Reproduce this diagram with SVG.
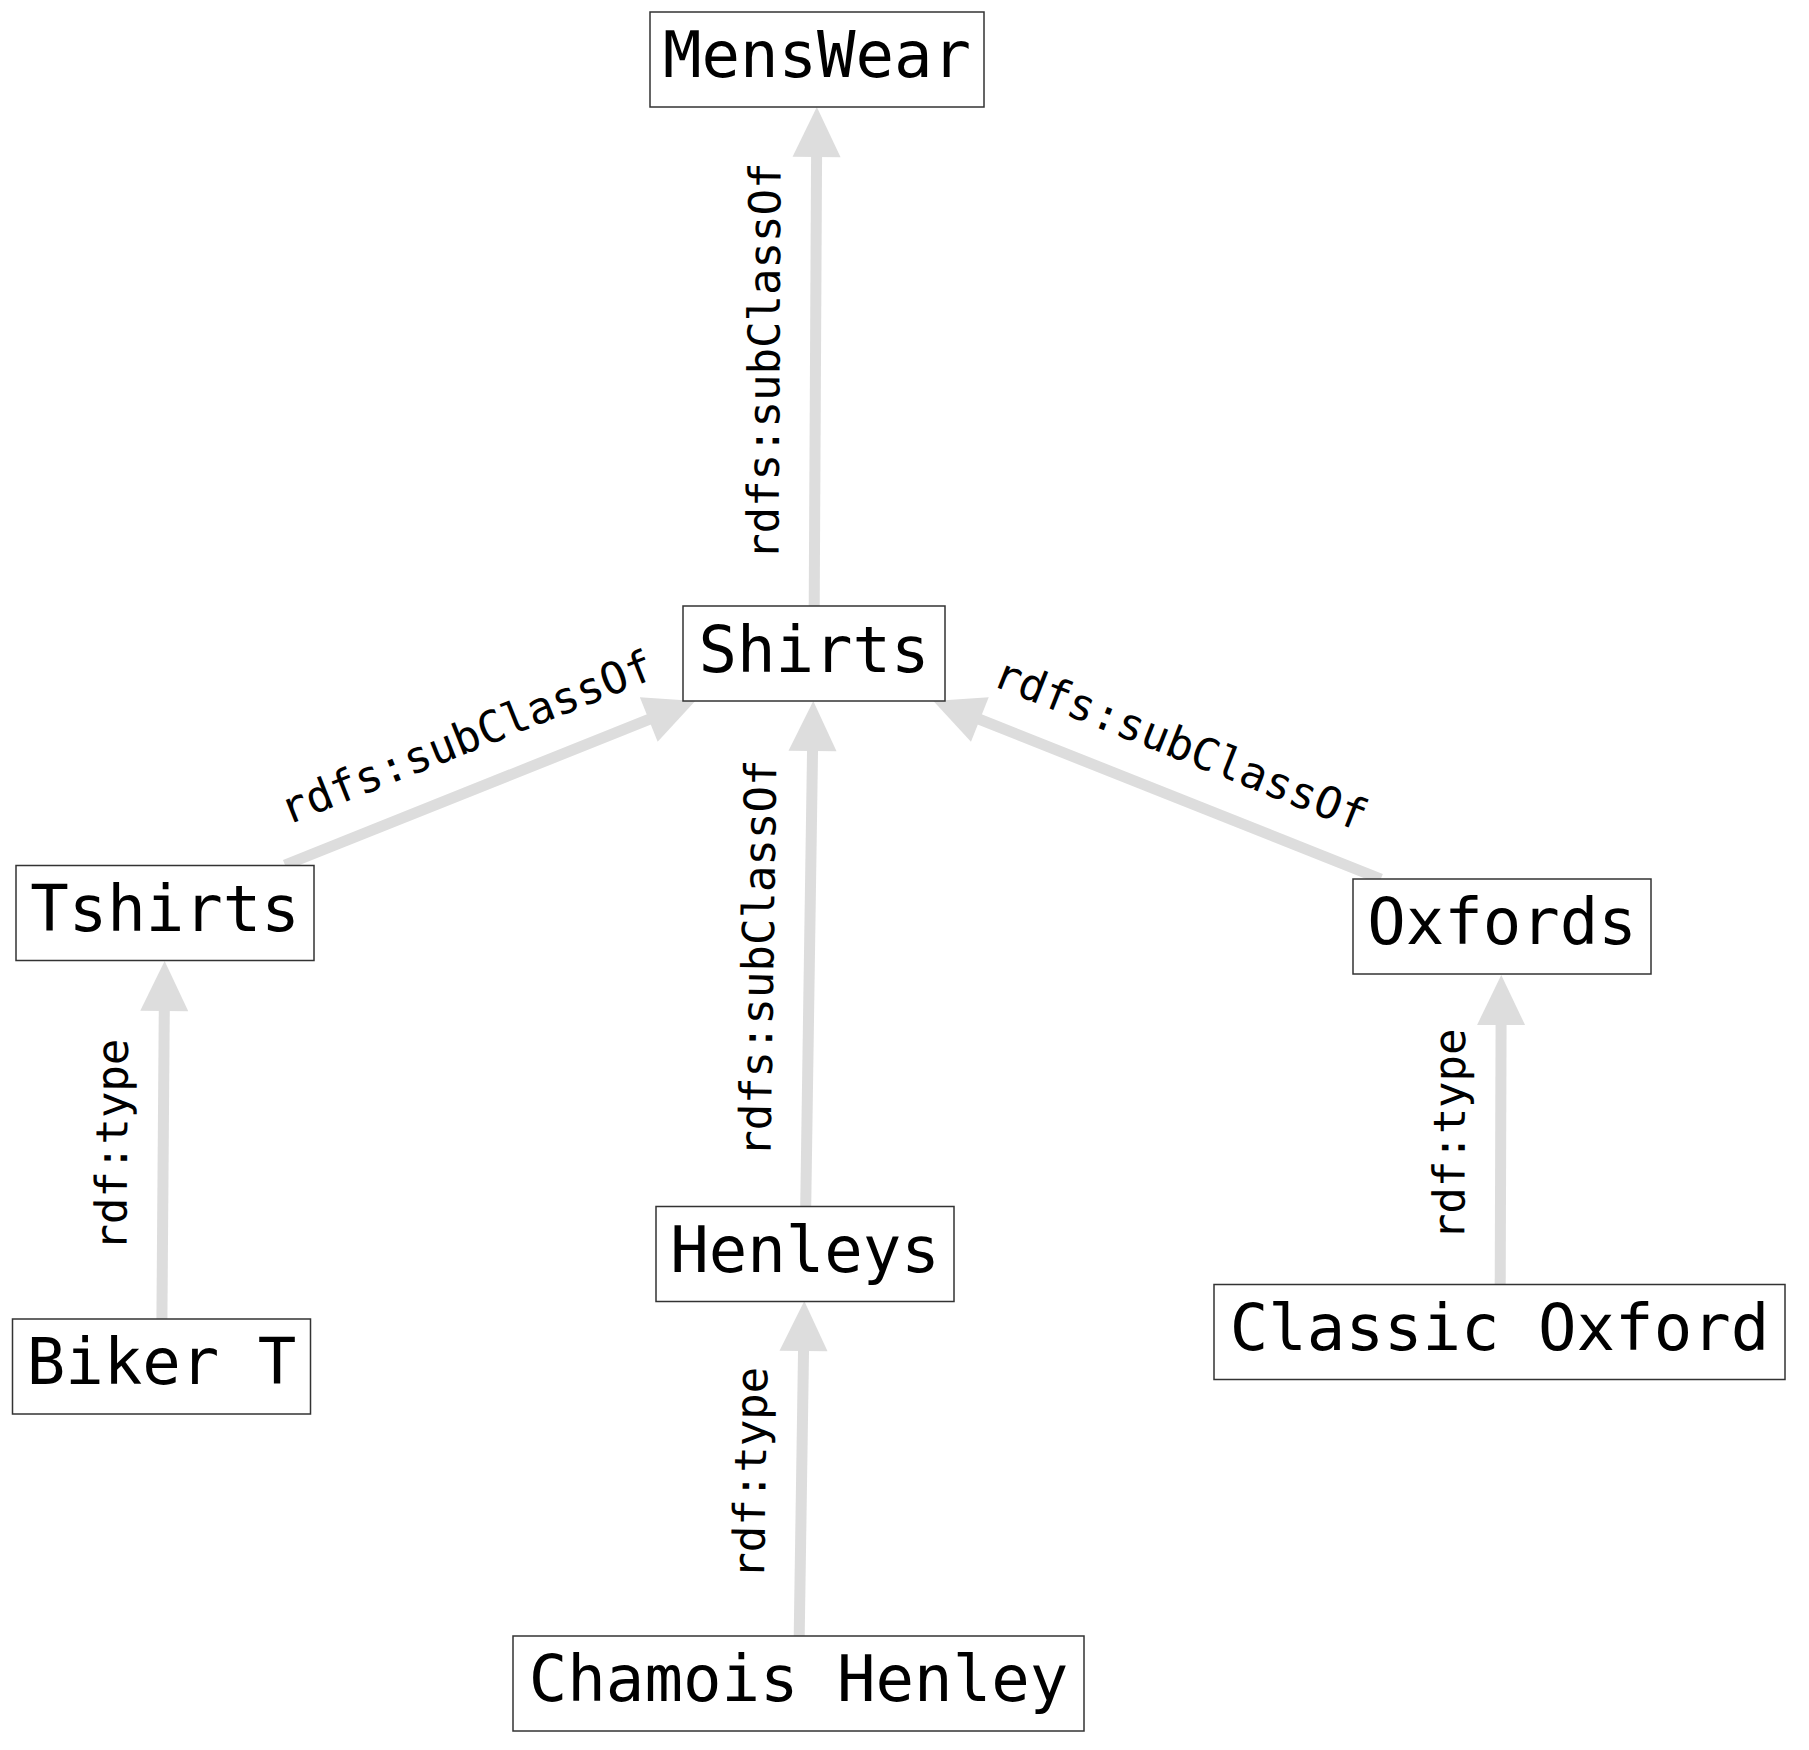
<svg xmlns="http://www.w3.org/2000/svg" width="1809" height="1750" viewBox="0 0 1809 1750">
<style>
.box{fill:#ffffff;stroke:#333333;stroke-width:1.5}
.nt{font-family:"DejaVu Sans Mono","Liberation Mono",monospace;font-size:64px;fill:#000000;text-anchor:middle}
.edge{stroke:#dddddd;stroke-width:11;fill:none;marker-end:url(#ah)}
.lbl{font-family:"DejaVu Sans Mono","Liberation Mono",monospace;font-size:44px;fill:#000000;text-anchor:middle}
</style>
<defs>
<marker id="ah" markerUnits="userSpaceOnUse" markerWidth="50" markerHeight="48" refX="5" refY="24" orient="auto" overflow="visible">
<path d="M0,0 L50,24 L0,48 Z" fill="#dddddd"/>
</marker>
</defs>
<rect width="1809" height="1750" fill="#ffffff"/>
<g id="connectors">
<line class="edge" x1="814.2" y1="606" x2="816.6" y2="152"/>
<line class="edge" x1="285" y1="865" x2="653.4" y2="717.7"/>
<line class="edge" x1="1380.8" y1="879" x2="975.2" y2="717.6"/>
<line class="edge" x1="805.7" y1="1207" x2="812.6" y2="746"/>
<line class="edge" x1="161.9" y1="1319" x2="164.3" y2="1006"/>
<line class="edge" x1="799.2" y1="1636" x2="803.6" y2="1346"/>
<line class="edge" x1="1500.2" y1="1284" x2="1501.1" y2="1020"/>
<text class="lbl" transform="translate(815.5,356.5) rotate(-89.7)" x="-5" y="-36">rdfs:subClassOf</text>
<text class="lbl" transform="translate(490.1,783) rotate(-21.8)" x="-5" y="-36">rdfs:subClassOf</text>
<text class="lbl" transform="translate(1157.1,790) rotate(21.69)" x="5" y="-36">rdfs:subClassOf</text>
<text class="lbl" transform="translate(809.5,954) rotate(-89.14)" x="-5" y="-36">rdfs:subClassOf</text>
<text class="lbl" transform="translate(163.25,1140) rotate(-89.57)" x="-5" y="-36">rdf:type</text>
<text class="lbl" transform="translate(801.75,1468.5) rotate(-89.13)" x="-5" y="-36">rdf:type</text>
<text class="lbl" transform="translate(1500.75,1129.5) rotate(-89.8)" x="-5" y="-36">rdf:type</text>
</g>
<g id="node-menswear"><rect class="box" x="650" y="12" width="334" height="95"/><text class="nt" x="817" y="77">MensWear</text></g>
<g id="node-shirts"><rect class="box" x="683" y="606" width="262" height="95"/><text class="nt" x="814" y="671.5">Shirts</text></g>
<g id="node-tshirts"><rect class="box" x="16" y="865.5" width="298" height="95"/><text class="nt" x="165" y="930.5">Tshirts</text></g>
<g id="node-oxfords"><rect class="box" x="1353" y="879" width="298" height="95"/><text class="nt" x="1502" y="944">Oxfords</text></g>
<g id="node-bikert"><rect class="box" x="12.5" y="1319" width="298" height="95"/><text class="nt" x="161.5" y="1384">Biker T</text></g>
<g id="node-henleys"><rect class="box" x="656" y="1206.5" width="298" height="95"/><text class="nt" x="805" y="1271.5">Henleys</text></g>
<g id="node-classicoxford"><rect class="box" x="1214" y="1284.5" width="571" height="95"/><text class="nt" x="1499.5" y="1349.5">Classic Oxford</text></g>
<g id="node-chamoishenley"><rect class="box" x="513" y="1636" width="571" height="95"/><text class="nt" x="798.5" y="1701">Chamois Henley</text></g>
</svg>
